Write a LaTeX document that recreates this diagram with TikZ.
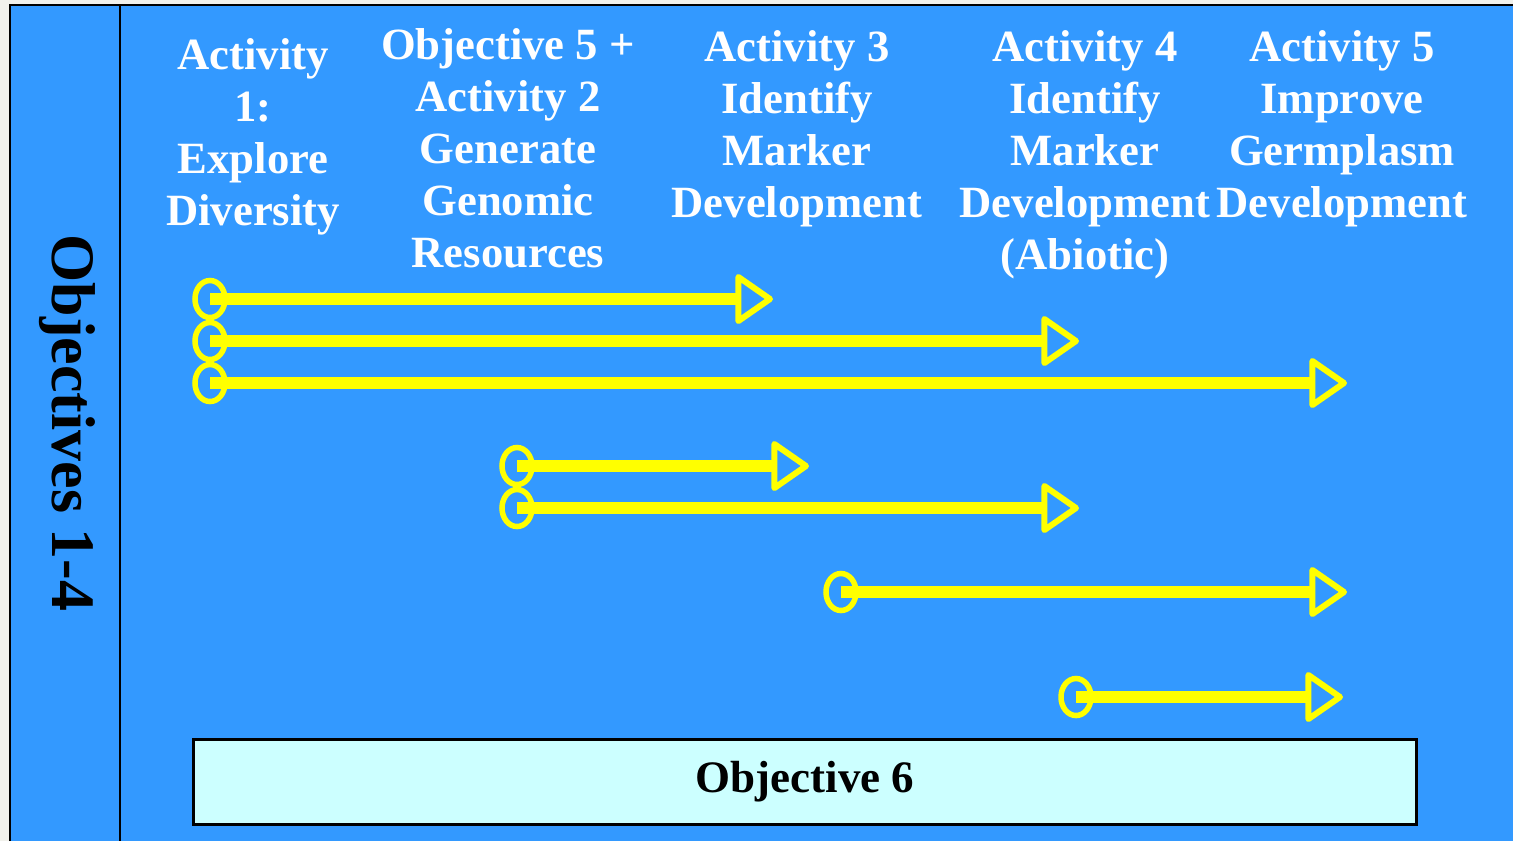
\documentclass[tikz,border=0pt]{standalone}
\usepackage{fontspec}
\setmainfont{Liberation Serif}
\usetikzlibrary{arrows.meta,shapes.geometric}

\definecolor{fundo}{HTML}{3399FF}
\definecolor{amarelo}{HTML}{FFFF00}
\definecolor{caixa}{HTML}{CCFFFF}
\definecolor{margem}{HTML}{F1F1EC}

\begin{document}
\begin{tikzpicture}[x=0.01cm, y=-0.01cm]
                \tikzstyle{cabeca}=[align=center, text=white, inner sep=0pt, anchor=north, font=\fontsize{12.7pt}{14.8pt}\selectfont\bfseries]
                \tikzstyle{origem}=[ellipse, draw=amarelo, line width=0.055cm, inner sep=0pt, minimum width=0.30cm, minimum height=0.37cm]
                \tikzstyle{seta}=[-{Triangle[open, round, length=0.40cm, width=0.54cm, line width=0.06cm]}, draw=amarelo, line width=0.12cm]

                    \useasboundingbox (0,0) rectangle (1513,841);

                    % Fundo
                    \fill[margem] (0,0) rectangle (1513,841);
                    \fill[fundo] (10,5) rectangle (1513,841);
                    \draw[line width=0.02cm] (10,841) -- (10,5) -- (1513,5);
                    \draw[line width=0.025cm] (120,5) -- (120,841);

                    \node[rotate=-90, inner sep=0pt, font=\fontsize{17.6pt}{20pt}\selectfont\bfseries] (lateral) at (67,423) {Objectives 1-4};

                    % Colunas
                    \node[cabeca] (ativ1) at (253,38) {Activity\\1:\\Explore\\Diversity};
                    \node[cabeca] (ativ2) at (508,28) {Objective 5 +\\Activity 2\\Generate\\Genomic\\Resources};
                    \node[cabeca] (ativ3) at (797,30) {Activity 3\\Identify\\Marker\\Development};
                    \node[cabeca] (ativ4) at (1085,30) {Activity 4\\Identify\\Marker\\Development\\(Abiotic)};
                    \node[cabeca] (ativ5) at (1342,30) {Activity 5\\Improve\\Germplasm\\Development};

                    % Inícios
                    \node[origem] (s1) at (210,299) {};
                    \node[origem] (s2) at (210,341) {};
                    \node[origem] (s3) at (210,383) {};
                    \node[origem] (s4) at (517,466) {};
                    \node[origem] (s5) at (517,508) {};
                    \node[origem] (s6) at (841,592) {};
                    \node[origem] (s7) at (1076,697) {};

                    % Pontas
                    \coordinate (e1) at (773,299);
                    \coordinate (e2) at (1079,341);
                    \coordinate (e3) at (1347,383);
                    \coordinate (e4) at (809,466);
                    \coordinate (e5) at (1079,508);
                    \coordinate (e6) at (1347,592);
                    \coordinate (e7) at (1343,697);

                    % Setas
                    \draw[seta] (s1.center) -- (e1);
                    \draw[seta] (s2.center) -- (e2);
                    \draw[seta] (s3.center) -- (e3);
                    \draw[seta] (s4.center) -- (e4);
                    \draw[seta] (s5.center) -- (e5);
                    \draw[seta] (s6.center) -- (e6);
                    \draw[seta] (s7.center) -- (e7);

                    \node[draw, fill=caixa, line width=0.03cm, minimum width=12.23cm, minimum height=0.85cm, font=\fontsize{12.8pt}{14.8pt}\selectfont\bfseries] (obj6) at (805,782) {Objective 6};

            \end{tikzpicture}
\end{document}
